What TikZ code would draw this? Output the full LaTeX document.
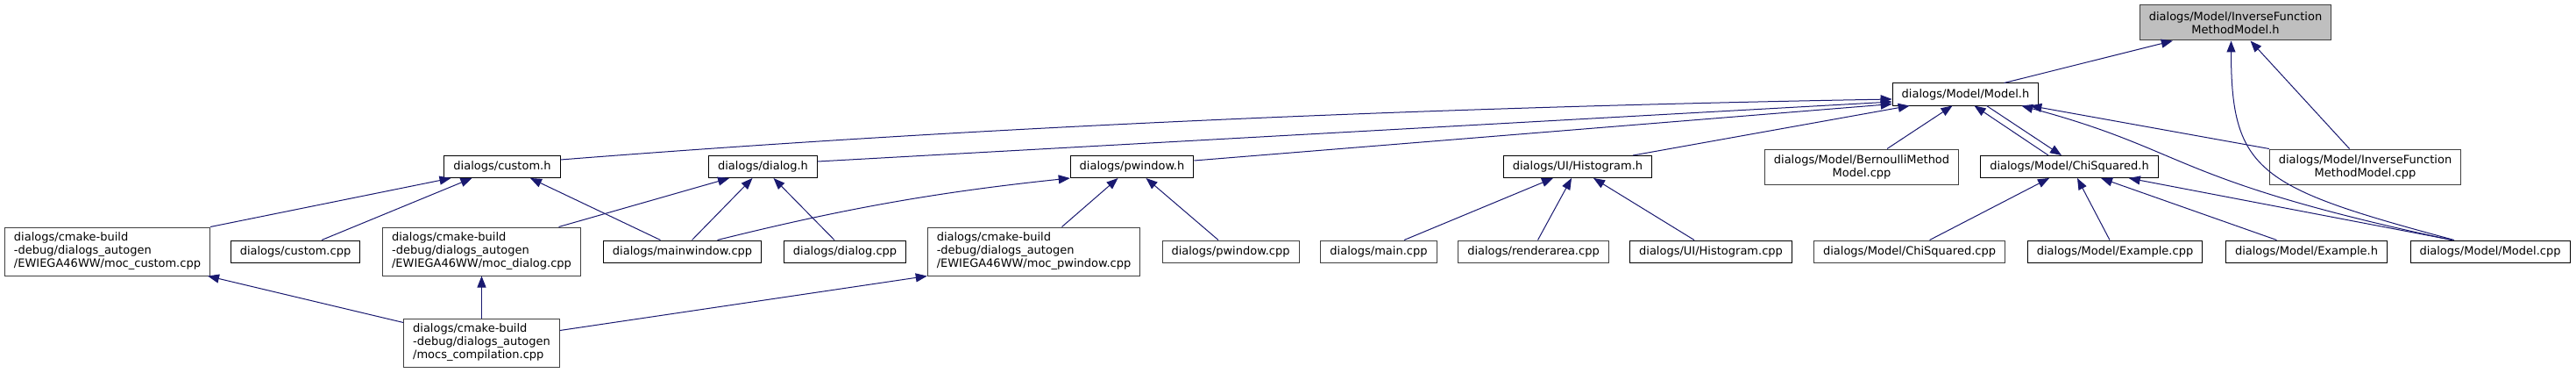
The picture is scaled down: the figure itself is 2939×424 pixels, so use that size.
\documentclass[tikz,border=0pt]{standalone}
\usepackage{fontspec}
\setmainfont{DejaVu Sans}
\usepackage{tikz}
\usetikzlibrary{arrows.meta,positioning}

\definecolor{edgeblue}{HTML}{191970}
\definecolor{leafgrey}{HTML}{404040}
\definecolor{rootgrey}{HTML}{BFBFBF}

\begin{document}
\begin{tikzpicture}[
    x=1pt, y=1pt,
    font=\fontsize{13}{15}\selectfont,
    file/.style={rectangle, draw=black, fill=white, line width=1pt,
        inner xsep=10.5pt, inner ysep=2pt, minimum height=25pt, align=center},
    leaf/.style={file, draw=leafgrey},
    twoline/.style={minimum height=40pt},
    moc/.style={leaf, align=left, minimum height=55pt},
    dep/.style={edgeblue, line width=1pt, -{Triangle[length=13pt,width=10pt]}}
]
\fill[white] (0,0) rectangle (2939,424);
\useasboundingbox (0,0) rectangle (2939,424);

% the file itself and the headers that pull it in
\node[leaf, twoline, fill=rootgrey] (root) at (2550.5,398) {dialogs/Model/InverseFunction\\MethodModel.h};
\node[file] (modelh) at (2242.5,316.5) {dialogs/Model/Model.h};
\node[file] (customh) at (573,234) {dialogs/custom.h};
\node[file] (dialogh) at (870.5,234) {dialogs/dialog.h};
\node[file] (pwindowh) at (1291.5,234) {dialogs/pwindow.h};
\node[file] (histh) at (1800,234) {dialogs/UI/Histogram.h};
\node[leaf, twoline] (bernoulli) at (2124,234) {dialogs/Model/BernoulliMethod\\Model.cpp};
\node[file] (chih) at (2361,234) {dialogs/Model/ChiSquared.h};
\node[leaf, twoline] (ifmmcpp) at (2698.5,234) {dialogs/Model/InverseFunction\\MethodModel.cpp};

% sources
\node[moc] (moccustom) at (122.5,137.5) {dialogs/cmake-build\\-debug/dialogs\_autogen\\/EWIEGA46WW/moc\_custom.cpp};
\node[file] (customcpp) at (337,137.5) {dialogs/custom.cpp};
\node[moc] (mocdialog) at (549.5,137.5) {dialogs/cmake-build\\-debug/dialogs\_autogen\\/EWIEGA46WW/moc\_dialog.cpp};
\node[file] (mainwindow) at (778.5,137.5) {dialogs/mainwindow.cpp};
\node[file] (dialogcpp) at (964,137.5) {dialogs/dialog.cpp};
\node[moc] (mocpwindow) at (1179.5,137.5) {dialogs/cmake-build\\-debug/dialogs\_autogen\\/EWIEGA46WW/moc\_pwindow.cpp};
\node[leaf] (pwindowcpp) at (1404,137.5) {dialogs/pwindow.cpp};
\node[leaf] (maincpp) at (1573,137.5) {dialogs/main.cpp};
\node[leaf] (renderarea) at (1749.5,137.5) {dialogs/renderarea.cpp};
\node[file] (histcpp) at (1952,137.5) {dialogs/UI/Histogram.cpp};
\node[leaf] (chicpp) at (2178.5,137.5) {dialogs/Model/ChiSquared.cpp};
\node[file] (examplecpp) at (2413,137.5) {dialogs/Model/Example.cpp};
\node[file] (exampleh) at (2631.5,137.5) {dialogs/Model/Example.h};
\node[file] (modelcpp) at (2841,137.5) {dialogs/Model/Model.cpp};
\node[moc] (mocscomp) [below=48pt of mocdialog] {dialogs/cmake-build\\-debug/dialogs\_autogen\\/mocs\_compilation.cpp};

% custom.h
\draw[dep] (moccustom.north east) -- ([xshift=8pt]customh.south west);
\draw[dep] ([xshift=30pt]customcpp.north) -- ([xshift=32pt]customh.south west);
\draw[dep] ([xshift=-25pt]mainwindow.north) -- ([xshift=32pt]customh.south);

% dialog.h
\draw[dep] ([xshift=88pt]mocdialog.north) -- ([xshift=24pt]dialogh.south west);
\draw[dep] ([xshift=11pt]mainwindow.north) -- ([xshift=-12pt]dialogh.south);
\draw[dep] ([xshift=-12pt]dialogcpp.north) -- ([xshift=12pt]dialogh.south);

% pwindow.h
\draw[dep] ([xshift=40pt]mainwindow.north) .. controls +(14:150) and +(186:150) .. (pwindowh.south west);
\draw[dep] ([xshift=32pt]mocpwindow.north) -- ([xshift=-16pt]pwindowh.south);
\draw[dep] ([xshift=-14pt]pwindowcpp.north) -- ([xshift=16pt]pwindowh.south);

% mocs_compilation.cpp
\draw[dep] ([yshift=-5pt]mocscomp.north west) -- ([xshift=-3pt]moccustom.south east);
\draw[dep] (mocscomp.north) -- (mocdialog.south);
\draw[dep] ([yshift=-14pt]mocscomp.north east) -- (mocpwindow.south west);

% Histogram.h
\draw[dep] ([xshift=29pt]maincpp.north) -- ([xshift=-28pt]histh.south);
\draw[dep] ([xshift=5pt]renderarea.north) -- ([xshift=-7pt]histh.south);
\draw[dep] ([xshift=-19pt]histcpp.north) -- ([xshift=18pt]histh.south);

% Model.h
\draw[dep] ([yshift=8pt]customh.east) .. controls +(4.5:500) and +(181:500) .. ([yshift=-5.5pt]modelh.west);
\draw[dep] ([yshift=6pt]dialogh.east) -- ([yshift=-8.5pt]modelh.west);
\draw[dep] ([yshift=7pt]pwindowh.east) -- ([yshift=-11pt]modelh.west);
\draw[dep] ([xshift=-22pt]histh.north east) -- ([xshift=20pt]modelh.south west);
\draw[dep] ([xshift=29pt]bernoulli.north) -- ([xshift=-15pt]modelh.south);
\draw[dep] ([xshift=-24pt]chih.north) -- ([xshift=10pt]modelh.south);
\draw[dep] ([xshift=24pt]modelh.south) -- ([xshift=-9pt]chih.north);
\draw[dep] (ifmmcpp.north west) -- ([xshift=-10pt]modelh.south east);
\draw[dep] ([xshift=-44pt]modelcpp.north) .. controls +(168:330) and +(-15:200) .. ([xshift=-20pt]modelh.south east);

% ChiSquared.h
\draw[dep] ([xshift=23pt]chicpp.north) -- ([xshift=-23pt]chih.south);
\draw[dep] ([xshift=-6pt]examplecpp.north) -- ([xshift=9pt]chih.south);
\draw[dep] ([xshift=-34pt]exampleh.north) -- ([xshift=36pt]chih.south);
\draw[dep] ([xshift=-43pt]modelcpp.north) -- ([xshift=-34pt]chih.south east);

% InverseFunctionMethodModel.h
\draw[dep] ([xshift=44pt]modelh.north) -- ([xshift=38pt]root.south west);
\draw[dep] ([xshift=-18pt]ifmmcpp.north) -- ([xshift=17pt]root.south);
\draw[dep] ([xshift=-41pt]modelcpp.north) .. controls +(165:230) and +(-90:150) .. ([xshift=-5pt]root.south);
\end{tikzpicture}
\end{document}
